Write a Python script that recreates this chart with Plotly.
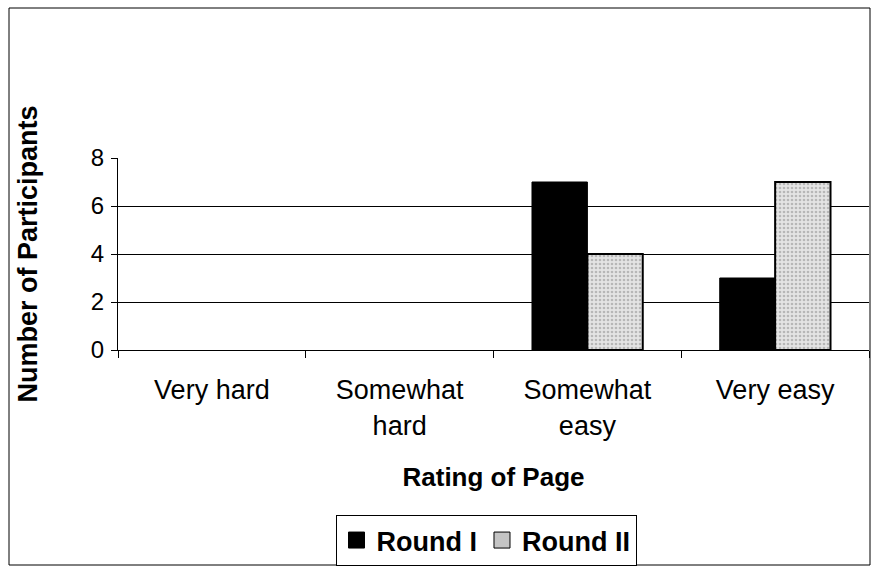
import plotly.graph_objects as go

categories = ["Very hard", "Somewhat<br>hard", "Somewhat<br>easy", "Very easy"]
round1 = [0, 0, 7, 3]
round2 = [0, 0, 4, 7]
series_names = ["Round I", "Round II"]
y_ticks = [0, 2, 4, 6, 8]

W, H = 875, 571
ML, MR, MT, MB = 118, 6, 158, 221
pw = W - ML - MR
ph = H - MT - MB

def px_to_paper_x(px):
    return (px - ML) / pw

def px_to_paper_y(py):
    return (H - MB - py) / ph

FONT = "Liberation Sans, Arial, sans-serif"
R2_FILL = "#e4e4e4"

fig = go.Figure()
fig.add_trace(go.Bar(
    x=categories, y=round1, name=series_names[0], showlegend=False,
    marker=dict(color="black",
                line=dict(color="black", width=[0 if v == 0 else 1 for v in round1])),
))
fig.add_trace(go.Bar(
    x=categories, y=round2, name=series_names[1], showlegend=False,
    marker=dict(color="#d4d4d4",
                line=dict(color="black", width=[0 if v == 0 else 2 for v in round2]),
                pattern=dict(shape=".", fgcolor="#8a8a8a", bgcolor=R2_FILL,
                             size=4, solidity=0.35)),
))
# legend entries with larger square swatches
fig.add_trace(go.Scatter(
    x=[None], y=[None], mode="markers", name=series_names[0],
    marker=dict(symbol="square", size=16, color="black", line=dict(color="black", width=1)),
))
fig.add_trace(go.Scatter(
    x=[None], y=[None], mode="markers", name=series_names[1],
    marker=dict(symbol="square", size=16, color="#c4c4c4", line=dict(color="black", width=1)),
))

fig.update_layout(
    width=W, height=H,
    margin=dict(l=ML, r=MR, t=MT, b=MB, autoexpand=False),
    paper_bgcolor="white", plot_bgcolor="white",
    barmode="group", bargap=0.41, bargroupgap=0,
    font=dict(family=FONT, color="black"),
    showlegend=True,
    legend=dict(orientation="h", x=px_to_paper_x(486), y=px_to_paper_y(515),
                xanchor="center", yanchor="top",
                font=dict(size=27, family=FONT, weight="bold"),
                bordercolor="black", borderwidth=1, bgcolor="white",
                itemwidth=30, tracegroupgap=0, itemsizing="trace"),
    xaxis=dict(
        showline=True, linecolor="black", linewidth=1,
        ticks="outside", tickson="boundaries", ticklen=7, tickcolor="black",
        tickfont=dict(size=27, family=FONT), ticklabelstandoff=16,
        showgrid=False,
        title=dict(text="<b>Rating of Page</b>", font=dict(size=26, family=FONT), standoff=28),
    ),
    yaxis=dict(
        range=[0, 8], tickvals=y_ticks,
        showline=True, linecolor="black", linewidth=1,
        ticks="outside", ticklen=6, tickcolor="black",
        tickfont=dict(size=24, family=FONT), ticklabelstandoff=2,
        showgrid=True, gridcolor="black", gridwidth=1,
        zeroline=False,
        title=dict(text="<b>Number of Participants</b>", font=dict(size=27, family=FONT), standoff=45),
    ),
    shapes=[dict(type="rect", xref="paper", yref="paper",
                 x0=px_to_paper_x(9), x1=px_to_paper_x(870),
                 y0=px_to_paper_y(565), y1=px_to_paper_y(8),
                 line=dict(color="black", width=1), layer="below")],
)

fig.write_html("out.html", config={"displayModeBar": False},
               post_script="document.body.style.margin='0';")
